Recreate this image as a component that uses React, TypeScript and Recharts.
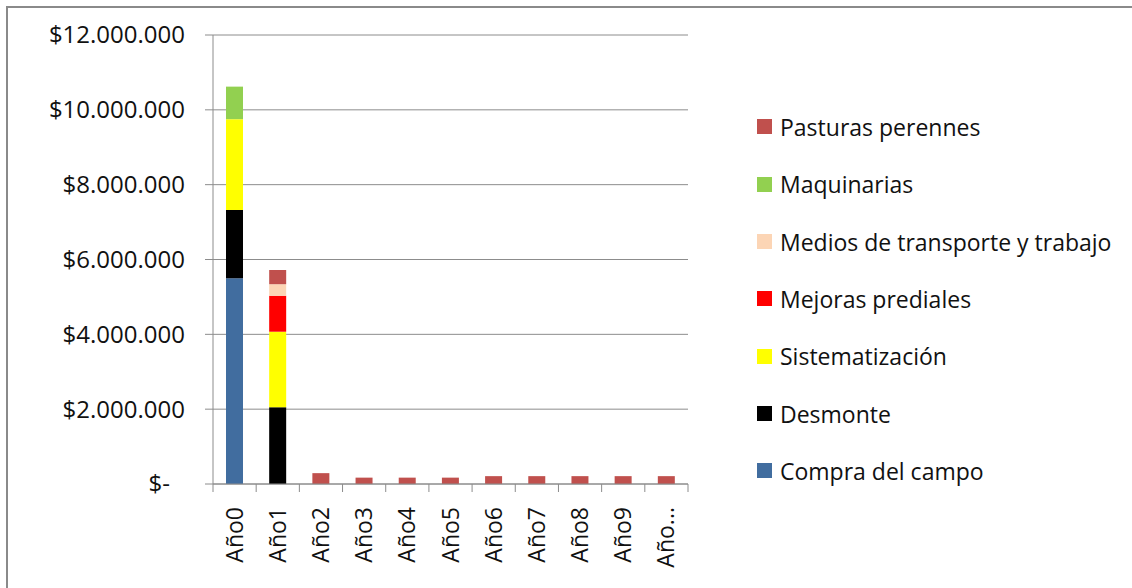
import React from 'react';
import { BarChart, Bar, XAxis, YAxis, CartesianGrid } from 'recharts';

const years = ['Año0', 'Año1', 'Año2', 'Año3', 'Año4', 'Año5', 'Año6', 'Año7', 'Año8', 'Año9', 'Año10'];

const compraDelCampo = [5500000, 0, 0, 0, 0, 0, 0, 0, 0, 0, 0];
const desmonte = [1820000, 2050000, 0, 0, 0, 0, 0, 0, 0, 0, 0];
const sistematizacion = [2430000, 2020000, 0, 0, 0, 0, 0, 0, 0, 0, 0];
const mejorasPrediales = [0, 960000, 0, 0, 0, 0, 0, 0, 0, 0, 0];
const mediosTransporte = [0, 310000, 0, 0, 0, 0, 0, 0, 0, 0, 0];
const maquinarias = [870000, 0, 0, 0, 0, 0, 0, 0, 0, 0, 0];
const pasturasPerennes = [0, 380000, 290000, 170000, 170000, 170000, 210000, 210000, 210000, 210000, 210000];

const yTicks = [0, 2000000, 4000000, 6000000, 8000000, 10000000, 12000000];

const series = [
  { key: 'compra', name: 'Compra del campo', color: '#416D9F', values: compraDelCampo },
  { key: 'desmonte', name: 'Desmonte', color: '#000000', values: desmonte },
  { key: 'sistematizacion', name: 'Sistematización', color: '#FFFF00', values: sistematizacion },
  { key: 'mejoras', name: 'Mejoras prediales', color: '#FF0000', values: mejorasPrediales },
  { key: 'medios', name: 'Medios de transporte y trabajo', color: '#FCD5B5', values: mediosTransporte },
  { key: 'maquinarias', name: 'Maquinarias', color: '#92D050', values: maquinarias },
  { key: 'pasturas', name: 'Pasturas perennes', color: '#C0504D', values: pasturasPerennes },
];

const data = years.map((year, i) => {
  const row: Record<string, string | number> = { year };
  series.forEach((s) => {
    row[s.key] = s.values[i];
  });
  return row;
});

const FONT = '"Open Sans", Lato, sans-serif';
const W = 1132;
const H = 588;
const PLOT_LEFT = 213;
const PLOT_RIGHT = 688;
const PLOT_TOP = 35;
const PLOT_BOTTOM = 484;
const band = (PLOT_RIGHT - PLOT_LEFT) / years.length;

const money = (v: number) => {
  if (v === 0) return '$-';
  return '$' + String(v).replace(/\B(?=(\d{3})+(?!\d))/g, '.');
};

const YTick = (props: any) => {
  const { x, y, payload } = props;
  const shift = payload.value === 0 ? -15 : 0;
  return (
    <text x={x + shift} y={y} dy="0.35em" textAnchor="end" fill="#111" fontSize={24} fontFamily={FONT}>
      {money(payload.value)}
    </text>
  );
};

const XTick = (props: any) => {
  const { x, y, payload, index } = props;
  const label = String(payload.value).length > 4 ? 'Año...' : payload.value;
  const last = index === years.length - 1;
  return (
    <g>
      <line x1={x - band / 2} x2={x - band / 2} y1={y} y2={y + 8} stroke="#8c8c8c" strokeWidth={1} />
      {last && <line x1={x + band / 2} x2={x + band / 2} y1={y} y2={y + 8} stroke="#8c8c8c" strokeWidth={1} />}
      <text
        transform={`translate(${x},${y + 23}) rotate(-90)`}
        textAnchor="end"
        dy="0.35em"
        fill="#111"
        fontSize={23}
        fontFamily={FONT}
      >
        {label}
      </text>
    </g>
  );
};

export default function App() {
  const legendItems = [...series].reverse();
  return (
    <div style={{ position: 'fixed', left: 0, top: 0, width: W, height: H, overflow: 'hidden', background: '#fff' }}>
      <div
        style={{
          position: 'absolute',
          left: 6,
          top: 6,
          width: 1300,
          height: 800,
          border: '2px solid #8a8a8a',
          boxSizing: 'border-box',
        }}
      />
      <div style={{ position: 'absolute', left: 0, top: 0 }}>
        <BarChart
          width={W}
          height={H}
          data={data}
          margin={{ top: PLOT_TOP, right: W - PLOT_RIGHT, bottom: 0, left: 0 }}
          barSize={17}
        >
          <CartesianGrid vertical={false} stroke="#8c8c8c" strokeWidth={1} />
          <XAxis
            dataKey="year"
            height={H - PLOT_BOTTOM}
            tickSize={0}
            tickMargin={0}
            tickLine={false}
            axisLine={{ stroke: '#8c8c8c' }}
            interval={0}
            tick={<XTick />}
          />
          <YAxis
            width={PLOT_LEFT}
            domain={[0, 12000000]}
            ticks={yTicks}
            interval={0}
            tickSize={8}
            tickMargin={20}
            tickLine={{ stroke: '#8c8c8c' }}
            axisLine={{ stroke: '#8c8c8c' }}
            tick={<YTick />}
          />
          {series.map((s) => (
            <Bar key={s.key} dataKey={s.key} name={s.name} stackId="a" fill={s.color} isAnimationActive={false} />
          ))}
        </BarChart>
      </div>
      <div style={{ position: 'absolute', left: 757, top: 127 - 57.33 / 2, fontFamily: FONT, fontSize: 23, color: '#111' }}>
        {legendItems.map((s) => (
          <div key={s.key} style={{ height: 57.33, display: 'flex', alignItems: 'center', whiteSpace: 'nowrap' }}>
            <span style={{ display: 'inline-block', width: 15, height: 15, background: s.color, marginRight: 8 }} />
            <span>{s.name}</span>
          </div>
        ))}
      </div>
    </div>
  );
}
